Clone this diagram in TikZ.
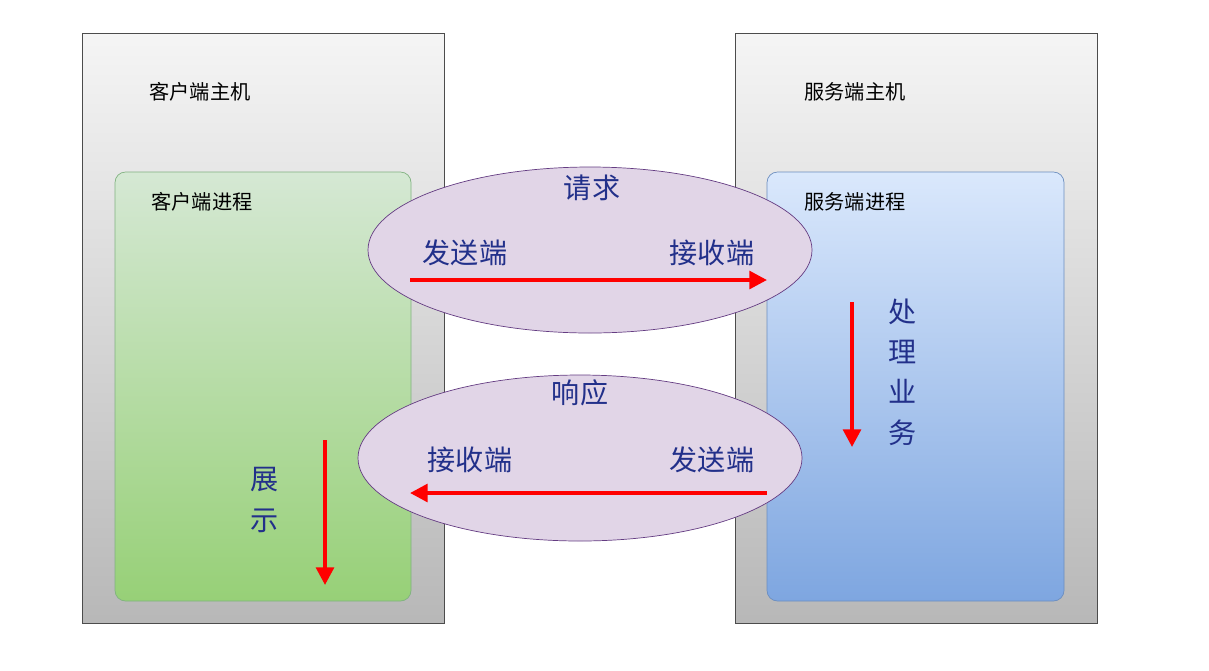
\documentclass[tikz,border=0pt]{standalone}
\usepackage{fontspec}
\setmainfont{Noto Sans CJK SC}
\usetikzlibrary{arrows.meta}
\definecolor{lbl}{HTML}{22308A}
\tikzset{
 host/.style={draw=black!70,top color=black!4,bottom color=black!28},
 gproc/.style={draw=green!40!black!50,rounded corners=6pt,top color={rgb,255:red,213;green,232;blue,212},bottom color={rgb,255:red,151;green,208;blue,119}},
 bproc/.style={draw={rgb,255:red,108;green,142;blue,191},rounded corners=6pt,top color={rgb,255:red,218;green,232;blue,252},bottom color={rgb,255:red,126;green,166;blue,224}},
 ell/.style={draw={rgb,255:red,100;green,60;blue,130},fill={rgb,255:red,225;green,213;blue,231}},
 small/.style={inner sep=0,font=\fontsize{11.5pt}{13pt}\selectfont},
 big/.style={inner sep=0,text=lbl,font=\fontsize{16pt}{19pt}\selectfont},
 redarr/.style={red,line width=2.2pt,-{Triangle[length=10pt,width=10pt]}}
}
\begin{document}
\begin{tikzpicture}[x=0.02cm,y=-0.02cm]
\useasboundingbox (0,0) rectangle (1209,670);
\draw[host] (82,33) rectangle (444,623);
\draw[host] (735,33) rectangle (1097,623);
\draw[gproc] (115,172) rectangle (411,601);
\draw[bproc] (767,172) rectangle (1064,601);
\node[small] (ch) at (200,92) {客户端主机};
\node[small] (cp) at (202,202) {客户端进程};
\node[small] (sh) at (855,92) {服务端主机};
\node[small] (sp) at (855,202) {服务端进程};
\draw[ell] (590,250) ellipse [x radius=222, y radius=83];
\draw[ell] (580,458) ellipse [x radius=222, y radius=83];
\node[big] (req) at (592,188) {请求};
\node[big] (s1) at (465,253) {发送端};
\node[big] (r1) at (712,253) {接收端};
\coordinate (a1) at (410,280); \coordinate (b1) at (767,280);
\draw[redarr] (a1) -- (b1);
\node[big] (resp) at (580,393) {响应};
\node[big] (r2) at (470,460) {接收端};
\node[big] (s2) at (712,460) {发送端};
\coordinate (a2) at (767,493); \coordinate (b2) at (410,493);
\draw[redarr] (a2) -- (b2);
\node[big,align=center,font=\fontsize{16pt}{23pt}\selectfont] (proc) at (903,372) {处\\理\\业\\务};
\coordinate (a3) at (852,302); \coordinate (b3) at (852,447);
\draw[redarr] (a3) -- (b3);
\node[big,align=center,font=\fontsize{16pt}{23pt}\selectfont] (show) at (265,500) {展\\示};
\coordinate (a4) at (325,440); \coordinate (b4) at (325,585);
\draw[redarr] (a4) -- (b4);
\end{tikzpicture}
\end{document}
